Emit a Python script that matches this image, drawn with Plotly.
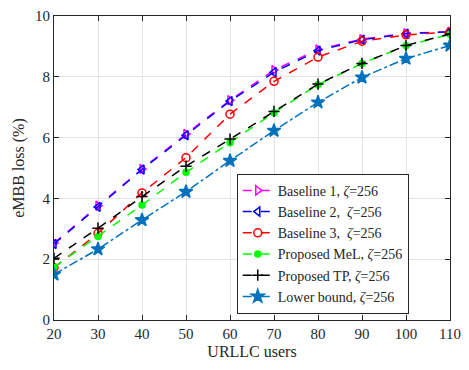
import plotly.graph_objects as go

users = [20, 30, 40, 50, 60, 70, 80, 90, 100, 110]
baseline1 = [2.53, 3.76, 4.97, 6.12, 7.23, 8.22, 8.9, 9.24, 9.43, 9.48]
baseline2 = [2.5, 3.72, 4.95, 6.08, 7.2, 8.15, 8.86, 9.22, 9.42, 9.48]
baseline3 = [1.72, 2.85, 4.18, 5.34, 6.77, 7.85, 8.65, 9.17, 9.38, 9.47]
proposed_mel = [1.74, 2.75, 3.78, 4.86, 5.83, 6.82, 7.74, 8.44, 9.02, 9.4]
proposed_tp = [2.03, 3.02, 4.06, 5.06, 5.95, 6.86, 7.76, 8.44, 9.03, 9.41]
lower_bound = [1.5, 2.33, 3.29, 4.22, 5.24, 6.23, 7.16, 7.98, 8.6, 9.03]

series = [
    ("Baseline 1, <i>ζ</i>=256", baseline1, "#FF00FF", "triangle-right-open", 8, "dash"),
    ("Baseline 2,&nbsp; <i>ζ</i>=256", baseline2, "#0000FF", "triangle-left-open", 8, "dash"),
    ("Baseline 3,&nbsp; <i>ζ</i>=256", baseline3, "#FF0000", "circle-open", 8, "dash"),
    ("Proposed MeL, <i>ζ</i>=256", proposed_mel, "#00FF00", "circle", 6, "dash"),
    ("Proposed TP, <i>ζ</i>=256", proposed_tp, "#000000", "cross-thin-open", 8, "dash"),
    ("Lower bound, <i>ζ</i>=256", lower_bound, "#0072BD", "star", 10, "dashdot"),
]

fig = go.Figure()
for name, vals, color, sym, size, dash in series:
    fig.add_trace(go.Scatter(
        x=users, y=vals, name=name, mode="lines+markers",
        line=dict(color=color, width=1.5, dash=dash),
        marker=dict(symbol=sym, size=size, color=color, line=dict(color=color, width=1.5)),
    ))

font = "Liberation Serif"
fig.update_layout(
    width=469, height=370,
    margin=dict(l=54, r=12, t=8, b=50),
    paper_bgcolor="white", plot_bgcolor="white",
    font=dict(family=font, size=15, color="#262626"),
    legend=dict(
        x=0.4615, y=0.481, xanchor="left", yanchor="top",
        bgcolor="white", bordercolor="#262626", borderwidth=1,
        font=dict(family=font, size=14, color="#262626"),
        tracegroupgap=0, itemwidth=30,
    ),
    xaxis=dict(
        range=[20, 110], tickvals=users, showgrid=True, gridcolor="#E3E3E3",
        ticks="inside", ticklen=5, tickcolor="#262626", linecolor="#262626",
        mirror="ticks", showline=True, zeroline=False,
        title=dict(text="URLLC users", standoff=4, font=dict(family=font, size=16)),
        tickfont=dict(family=font, size=15),
    ),
    yaxis=dict(
        range=[0, 10], tickvals=[0, 2, 4, 6, 8, 10], showgrid=True, gridcolor="#E3E3E3",
        ticks="inside", ticklen=5, tickcolor="#262626", linecolor="#262626",
        mirror="ticks", showline=True, zeroline=False,
        title=dict(text="eMBB loss (%)", standoff=6, font=dict(family=font, size=16)),
        tickfont=dict(family=font, size=15),
    ),
)
fig.write_html("out.html")
